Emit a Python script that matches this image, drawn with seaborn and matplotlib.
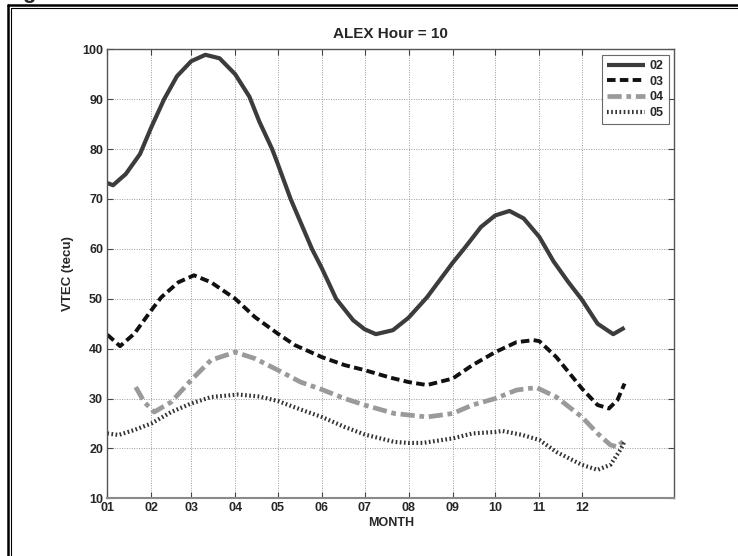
import numpy as np
import pandas as pd
import matplotlib
matplotlib.use("Agg")
import matplotlib.pyplot as plt
from matplotlib.lines import Line2D
import seaborn as sns

# ---- data (x = day of year, y = VTEC in TECU) ----
x02 = [1, 5, 14, 24, 32, 41, 50, 60, 70, 80, 91, 101, 108, 117, 121, 130, 145, 152, 162, 174,
       182, 190, 202, 213, 226, 244, 252, 264, 274, 284, 294, 305, 315, 325, 335, 346, 357, 365]
y02 = [73.2, 72.75, 75, 79, 84.4, 90, 94.6, 97.6, 98.9, 98.2, 95, 90.5, 85.5, 80, 77, 70, 60, 56.1, 50, 45.7,
       43.9, 42.9, 43.7, 46.2, 50.3, 57.2, 60, 64.4, 66.7, 67.6, 66.1, 62.4, 57.5, 53.5, 49.8, 45, 42.9, 44.2]

x03 = [1, 10, 20, 32, 39, 51, 62, 74, 91, 105, 121, 133, 152, 168, 182, 200, 213, 226, 244, 258,
       274, 289, 301, 305, 317, 335, 346, 354, 360, 365]
y03 = [42.8, 40.5, 43, 47.7, 50.3, 53.3, 54.7, 53.3, 50, 46.3, 43, 40.7, 38.3, 36.7, 35.7, 34.2, 33.3, 32.7, 34, 36.7,
       39.3, 41.3, 41.7, 41.5, 38.3, 32, 28.7, 28, 29.7, 33]

x04 = [21, 27, 34, 46, 60, 74, 91, 105, 121, 137, 152, 168, 182, 203, 213, 226, 244, 258, 274, 289,
       303, 317, 335, 346, 355, 360, 365]
y04 = [32.3, 29.3, 27.3, 29.3, 33.7, 37.7, 39.3, 38, 35.7, 33.3, 31.8, 30, 28.7, 27, 26.7, 26.3, 27, 28.7, 30, 31.7,
       32.2, 30.3, 26.3, 23, 20.7, 20.3, 21.7]

x05 = [1, 9, 20, 32, 46, 60, 74, 93, 108, 121, 137, 152, 168, 182, 203, 213, 223, 244, 258, 274,
       279, 293, 305, 317, 335, 346, 355, 362, 365]
y05 = [23, 22.7, 23.7, 25, 27.3, 29, 30.3, 30.8, 30.4, 29.5, 27.8, 26.3, 24.3, 22.8, 21.3, 21.1, 21.1, 22, 23, 23.3,
       23.5, 22.7, 21.7, 19.3, 16.7, 15.7, 16.7, 19.7, 21.4]

series_names = ["02", "03", "04", "05"]
month_days = [1, 32, 60, 91, 121, 152, 182, 213, 244, 274, 305, 335]
month_labels = ["01", "02", "03", "04", "05", "06", "07", "08", "09", "10", "11", "12"]
y_ticks = [10, 20, 30, 40, 50, 60, 70, 80, 90, 100]

title = "ALEX Hour = 10"
xlabel = "MONTH"
ylabel = "VTEC (tecu)"

# ---- style ----
sns.set_theme(style="ticks")
plt.rcParams["font.family"] = ["Liberation Sans", "DejaVu Sans"]
plt.rcParams["font.weight"] = "bold"

W, H = 738, 556
fig = plt.figure(figsize=(W / 100, H / 100), dpi=100)
fig.patch.set_facecolor("white")
ax = fig.add_axes([107.3 / W, 1 - 498.3 / H, (674.3 - 107.3) / W, (498.3 - 49.3) / H])
ax.set_facecolor("white")

styles = {
    "02": dict(color="#3c3c3c", linestyle="-", linewidth=3.0),
    "03": dict(color="#111111", linestyle=(0, (2.2, 1.1)), linewidth=2.8),
    "04": dict(color="#9a9a9a", linestyle=(0, (3.0, 1.0, 1.0, 1.0)), linewidth=3.4),
    "05": dict(color="#333333", linestyle=(0, (0.4, 0.6)), linewidth=3.0),
}
data = {"02": (x02, y02), "03": (x03, y03), "04": (x04, y04), "05": (x05, y05)}

for name in series_names:
    xs, ys = data[name]
    df = pd.DataFrame({"day": xs, "vtec": ys})
    sns.lineplot(data=df, x="day", y="vtec", ax=ax, label=name, sort=True,
                 solid_capstyle="butt", dash_capstyle="butt", solid_joinstyle="round",
                 **styles[name])

ax.set_xlim(1, 400)
ax.set_ylim(10, 100)
ax.set_xticks(month_days)
ax.set_xticklabels(month_labels)
ax.set_yticks(y_ticks)
ax.grid(True, color="#9a9a9a", linestyle=(0, (1, 1.5)), linewidth=0.7)
ax.tick_params(direction="in", top=True, right=True, length=4, width=0.8,
               labelsize=9, color="#444444", pad=3)
for lab in ax.get_xticklabels() + ax.get_yticklabels():
    lab.set_fontweight("bold")
for s in ax.spines.values():
    s.set_color("#555555")
    s.set_linewidth(1.0)
ax.spines["bottom"].set_color("#8a8a8a")
ax.spines["bottom"].set_linewidth(1.5)

ax.set_title(title, fontsize=11, fontweight="bold", pad=8)
ax.set_xlabel(xlabel, fontsize=9, fontweight="bold", labelpad=2)
ax.set_ylabel(ylabel, fontsize=9.5, fontweight="bold", labelpad=6)

leg = ax.legend(loc="upper right", fontsize=9, frameon=True, fancybox=False,
                handlelength=3.0, handletextpad=0.4, borderpad=0.4, labelspacing=0.3,
                borderaxespad=0.45)
leg.get_frame().set_edgecolor("#444444")
leg.get_frame().set_linewidth(0.8)
for t in leg.get_texts():
    t.set_fontweight("bold")

# page frame (double line on top and left)
fig.add_artist(Line2D([8 / W, 1.0], [1 - 4.8 / H, 1 - 4.8 / H], transform=fig.transFigure,
                      color="black", linewidth=1.8))
fig.add_artist(Line2D([11 / W, 1.0], [1 - 7.5 / H, 1 - 7.5 / H], transform=fig.transFigure,
                      color="black", linewidth=0.8))
fig.add_artist(Line2D([8.3 / W, 8.3 / W], [0, 1 - 4.8 / H], transform=fig.transFigure,
                      color="black", linewidth=1.8))
fig.add_artist(Line2D([11.3 / W, 11.3 / W], [0, 1 - 7.5 / H], transform=fig.transFigure,
                      color="black", linewidth=0.8))
fig.text(22 / W, 1 + 2 / H, "g", fontsize=16, fontweight="bold", va="baseline", ha="left")

fig.savefig("out.png", dpi=100, facecolor="white")
